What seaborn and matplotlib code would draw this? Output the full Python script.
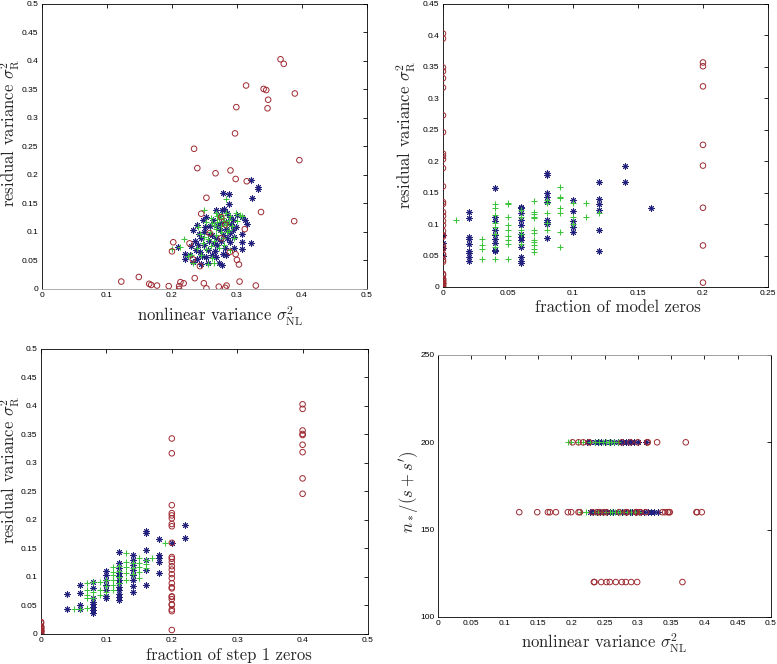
import pandas as pd
import matplotlib
matplotlib.use("Agg")
import matplotlib.pyplot as plt
from matplotlib.ticker import FuncFormatter, MultipleLocator
import seaborn as sns

RED = "#9e2a32"
BLUE = "#22227e"
GREEN = "#3cc43c"

# red circles: one row per run (nonlinear var, residual var, frac model zeros, frac step1 zeros, n*/(s+s'))
red_nl = [0.367, 0.372, 0.314, 0.341, 0.348, 0.347, 0.299, 0.389, 0.297, 0.234,
          0.239, 0.267, 0.290, 0.298, 0.315, 0.396, 0.253, 0.337, 0.388, 0.245,
          0.276, 0.312, 0.202, 0.200, 0.227, 0.298, 0.300, 0.303, 0.243, 0.232,
          0.289, 0.122, 0.149, 0.168, 0.177, 0.195, 0.211, 0.213, 0.218, 0.235,
          0.249, 0.253, 0.272, 0.282, 0.284, 0.304, 0.329, 0.211, 0.345, 0.165,
          0.282, 0.258, 0.276]
red_r = [0.403, 0.395, 0.357, 0.351, 0.332, 0.317, 0.319, 0.343, 0.273, 0.246,
         0.212, 0.203, 0.208, 0.193, 0.189, 0.226, 0.160, 0.135, 0.119, 0.132,
         0.126, 0.105, 0.082, 0.066, 0.080, 0.061, 0.051, 0.043, 0.040, 0.052,
         0.065, 0.013, 0.021, 0.007, 0.006, 0.005, 0.005, 0.012, 0.010, 0.019,
         0.010, 0.001, 0.004, 0.002, 0.006, 0.013, 0.006, 0.000, 0.349, 0.009,
         0.113, 0.098, 0.089]
red_fmz = [0, 0, 0.2, 0.2, 0, 0, 0.2, 0, 0, 0,
           0, 0, 0, 0.2, 0, 0.2, 0, 0, 0, 0,
           0.2, 0, 0, 0.2, 0, 0, 0, 0, 0, 0,
           0, 0, 0, 0.2, 0, 0, 0, 0, 0, 0,
           0, 0, 0, 0, 0, 0, 0, 0, 0, 0,
           0, 0, 0]
red_fs1 = [0.4, 0.4, 0.4, 0.4, 0.4, 0.2, 0.4, 0.2, 0.4, 0.4,
           0.2, 0.2, 0.2, 0.2, 0.2, 0.2, 0.2, 0.2, 0.2, 0.2,
           0.2, 0.2, 0.2, 0.2, 0.2, 0.2, 0.2, 0.2, 0.2, 0.2,
           0.2, 0, 0, 0.2, 0, 0, 0, 0, 0, 0,
           0, 0, 0, 0, 0, 0, 0, 0, 0.4, 0,
           0.2, 0.2, 0.2]
red_n = [120, 200, 200, 160, 160, 160, 120, 160, 160, 120,
         160, 120, 120, 160, 200, 160, 160, 160, 160, 120,
         120, 160, 200, 160, 200, 160, 200, 160, 160, 160,
         200, 160, 160, 160, 160, 160, 200, 160, 200, 120,
         160, 120, 160, 120, 160, 160, 200, 160, 160, 160,
         160, 120, 200]

# blue stars / green plus in the nonlinear vs residual panel
blue_nl = [0.321, 0.332, 0.333, 0.323, 0.278, 0.287, 0.288, 0.280, 0.277, 0.285,
           0.289, 0.294, 0.291, 0.294, 0.296, 0.307, 0.312, 0.315, 0.308, 0.308,
           0.321, 0.308, 0.267, 0.263, 0.269, 0.274, 0.279, 0.276, 0.269, 0.253,
           0.248, 0.251, 0.258, 0.257, 0.249, 0.256, 0.262, 0.268, 0.278, 0.283,
           0.272, 0.277, 0.238, 0.233, 0.241, 0.236, 0.230, 0.237, 0.243, 0.238,
           0.233, 0.220, 0.220, 0.210, 0.245, 0.262, 0.272, 0.283, 0.298, 0.290,
           0.285, 0.264, 0.246, 0.255, 0.244, 0.300, 0.290, 0.266, 0.250, 0.282,
           0.228, 0.240, 0.275, 0.259, 0.296, 0.283, 0.268, 0.252]
blue_r = [0.192, 0.179, 0.176, 0.159, 0.169, 0.167, 0.149, 0.141, 0.138, 0.133,
          0.126, 0.121, 0.114, 0.103, 0.091, 0.126, 0.121, 0.114, 0.097, 0.082,
          0.081, 0.071, 0.138, 0.121, 0.112, 0.103, 0.094, 0.085, 0.077, 0.126,
          0.121, 0.108, 0.097, 0.085, 0.077, 0.068, 0.059, 0.056, 0.062, 0.059,
          0.045, 0.042, 0.112, 0.103, 0.097, 0.085, 0.076, 0.068, 0.065, 0.053,
          0.047, 0.062, 0.053, 0.074, 0.090, 0.095, 0.128, 0.117, 0.108, 0.083,
          0.090, 0.080, 0.057, 0.046, 0.043, 0.130, 0.098, 0.066, 0.100, 0.072,
          0.060, 0.078, 0.115, 0.110, 0.072, 0.105, 0.090, 0.056]
green_nl = [0.200, 0.218, 0.213, 0.225, 0.232, 0.240, 0.250, 0.243, 0.247, 0.252,
            0.255, 0.262, 0.265, 0.268, 0.283, 0.276, 0.280, 0.270, 0.265, 0.260,
            0.275, 0.285, 0.290, 0.298, 0.305, 0.308, 0.296, 0.288, 0.278, 0.268,
            0.258, 0.250, 0.245, 0.260, 0.272, 0.280, 0.290, 0.285, 0.272, 0.262,
            0.278, 0.283, 0.238, 0.230, 0.255, 0.265, 0.300, 0.292, 0.268, 0.253,
            0.276, 0.287, 0.270, 0.283]
green_r = [0.071, 0.088, 0.073, 0.058, 0.046, 0.108, 0.138, 0.097, 0.080, 0.070,
           0.043, 0.055, 0.045, 0.134, 0.158, 0.130, 0.120, 0.118, 0.112, 0.124,
           0.110, 0.115, 0.128, 0.134, 0.130, 0.128, 0.090, 0.104, 0.090, 0.095,
           0.100, 0.092, 0.060, 0.075, 0.072, 0.078, 0.068, 0.100, 0.122, 0.115,
           0.125, 0.112, 0.072, 0.060, 0.087, 0.085, 0.120, 0.110, 0.105, 0.118,
           0.100, 0.121, 0.128, 0.133]

# fraction of model zeros -> residual variances
blue_fmz = {
    0.00: [0.082, 0.070, 0.062, 0.050],
    0.02: [0.120, 0.110, 0.080, 0.077, 0.069, 0.058, 0.054, 0.048, 0.041],
    0.04: [0.158, 0.111, 0.105, 0.090, 0.082, 0.077, 0.070, 0.059, 0.057],
    0.06: [0.127, 0.125, 0.117, 0.106, 0.098, 0.085, 0.080, 0.074, 0.064, 0.048, 0.042, 0.038],
    0.08: [0.181, 0.178, 0.149, 0.143, 0.135, 0.106, 0.103, 0.100, 0.078],
    0.10: [0.139, 0.121, 0.105, 0.096, 0.088],
    0.12: [0.167, 0.140, 0.132, 0.122, 0.091, 0.057],
    0.14: [0.192, 0.167],
    0.16: [0.125],
}
green_fmz = {
    0.01: [0.106],
    0.03: [0.077, 0.067, 0.061, 0.045],
    0.04: [0.132, 0.125, 0.114, 0.101, 0.096, 0.085, 0.064, 0.045],
    0.05: [0.134, 0.132, 0.112, 0.098, 0.090, 0.081, 0.074, 0.069, 0.045],
    0.06: [0.122, 0.111, 0.091, 0.085, 0.069],
    0.07: [0.136, 0.120, 0.116, 0.111, 0.109, 0.091, 0.086, 0.075, 0.072, 0.067, 0.061, 0.056],
    0.08: [0.138, 0.133, 0.117, 0.101, 0.090],
    0.09: [0.159, 0.143, 0.142, 0.125, 0.117, 0.088, 0.064],
    0.10: [0.133, 0.112, 0.100],
    0.11: [0.133, 0.111],
    0.12: [0.117],
}

# fraction of step 1 zeros -> residual variances
blue_fs1 = {
    0.04: [0.071, 0.043],
    0.06: [0.086, 0.072, 0.051, 0.043],
    0.08: [0.091, 0.080, 0.064, 0.056, 0.053, 0.047, 0.042, 0.037],
    0.10: [0.110, 0.104, 0.095, 0.086, 0.077, 0.067, 0.063],
    0.12: [0.143, 0.125, 0.115, 0.107, 0.101, 0.095, 0.089, 0.083, 0.077, 0.071, 0.065, 0.060],
    0.14: [0.139, 0.130, 0.121, 0.112, 0.104, 0.095, 0.084, 0.074],
    0.16: [0.180, 0.177, 0.147, 0.130, 0.112, 0.086],
    0.18: [0.166, 0.139, 0.133, 0.127, 0.107],
    0.20: [0.159],
    0.22: [0.191, 0.168],
}
green_fs1 = {
    0.05: [0.043],
    0.06: [0.044],
    0.07: [0.089, 0.077, 0.068, 0.063, 0.045],
    0.08: [0.092, 0.074, 0.064],
    0.09: [0.092, 0.077, 0.068],
    0.10: [0.095, 0.084, 0.074],
    0.11: [0.117, 0.109, 0.104, 0.095, 0.086, 0.077],
    0.12: [0.120, 0.110, 0.100, 0.090],
    0.13: [0.142, 0.127, 0.118, 0.107, 0.095],
    0.14: [0.125, 0.115, 0.105],
    0.15: [0.133, 0.125, 0.118, 0.108, 0.098],
    0.16: [0.130, 0.122, 0.116],
    0.17: [0.133],
    0.19: [0.160],
}

# n*/(s+s') rows -> nonlinear variances
blue_n = {
    200: [0.223, 0.228, 0.235, 0.240, 0.245, 0.250, 0.258, 0.265, 0.270, 0.275,
          0.278, 0.282, 0.285, 0.290, 0.295, 0.300, 0.313],
    160: [0.228, 0.233, 0.238, 0.243, 0.248, 0.253, 0.258, 0.263, 0.270, 0.276,
          0.282, 0.288, 0.292, 0.298, 0.305, 0.310, 0.315, 0.320, 0.325, 0.330],
}
green_n = {
    200: [0.195, 0.200, 0.210, 0.218, 0.228, 0.235, 0.242, 0.248, 0.252, 0.256,
          0.260, 0.265, 0.270],
    160: [0.215, 0.222, 0.235, 0.240, 0.246, 0.252, 0.258, 0.262, 0.266, 0.270,
          0.274, 0.278, 0.284, 0.290, 0.296, 0.302],
}


def flatten(d):
    rows = [(k, v) for k, vals in d.items() for v in vals]
    return pd.DataFrame(rows, columns=["x", "y"])


red = pd.DataFrame({"nl": red_nl, "r": red_r, "fmz": red_fmz, "fs1": red_fs1, "n": red_n})

sns.set_style("white")
plt.rcParams["mathtext.fontset"] = "cm"
plt.rcParams["font.family"] = ["Liberation Sans", "DejaVu Sans"]

LABEL = dict(fontfamily="cmr10", fontsize=12)

fig = plt.figure(figsize=(7.77, 6.64), dpi=100)
ax1 = fig.add_axes([0.054, 0.5648, 0.4183, 0.4292])
ax2 = fig.add_axes([0.5701, 0.5678, 0.4183, 0.4262])
ax3 = fig.add_axes([0.0528, 0.0452, 0.4208, 0.4292])
ax4 = fig.add_axes([0.5637, 0.0708, 0.4286, 0.3946])


def red_pts(ax, x, y):
    sns.scatterplot(x=x, y=y, marker="o", s=16, facecolor="none", edgecolor=RED,
                    linewidth=0.7, ax=ax, zorder=3)


def star_pts(ax, x, y):
    sns.scatterplot(x=x, y=y, marker=(8, 2, 0), s=15, color=BLUE, linewidth=0.7,
                    ax=ax, zorder=2)


def plus_pts(ax, x, y):
    sns.scatterplot(x=x, y=y, marker="+", s=24, color=GREEN, linewidth=0.75,
                    ax=ax, zorder=2)


# panel 1
red_pts(ax1, red["nl"], red["r"])
star_pts(ax1, blue_nl, blue_r)
plus_pts(ax1, green_nl, green_r)

# panel 2
b2, g2 = flatten(blue_fmz), flatten(green_fmz)
red_pts(ax2, red["fmz"], red["r"])
star_pts(ax2, b2["x"], b2["y"])
plus_pts(ax2, g2["x"], g2["y"])

# panel 3
b3, g3 = flatten(blue_fs1), flatten(green_fs1)
red_pts(ax3, red["fs1"], red["r"])
star_pts(ax3, b3["x"], b3["y"])
plus_pts(ax3, g3["x"], g3["y"])

# panel 4
b4, g4 = flatten(blue_n), flatten(green_n)
red_pts(ax4, red["nl"], red["n"])
star_pts(ax4, b4["y"], b4["x"])
plus_pts(ax4, g4["y"], g4["x"])

fmt = FuncFormatter(lambda v, p: "%g" % round(v, 4))

setup = [
    (ax1, (0, 0.5), 0.1, (0, 0.5), 0.05,
     r"nonlinear variance $\sigma^2_{\rm NL}$", r"residual variance $\sigma^2_{\rm R}$",
     (-0.055, 0.547), (-0.097, 0.547)),
    (ax2, (0, 0.25), 0.05, (0, 0.45), 0.05,
     "fraction of model zeros", r"residual variance $\sigma^2_{\rm R}$",
     (-0.046, 0.537), (-0.112, 0.537)),
    (ax3, (0, 0.5), 0.1, (0, 0.5), 0.05,
     "fraction of step 1 zeros", r"residual variance $\sigma^2_{\rm R}$",
     (-0.049, 0.575), (-0.094, 0.575)),
    (ax4, (0, 0.5), 0.05, (100, 250), 50,
     r"nonlinear variance $\sigma^2_{\rm NL}$", r"$n_*/(s+s')$",
     (-0.058, 0.5), (-0.089, 0.477)),
]
for ax, xl, xs, yl, ys, xlab, ylab, xpos, ypos in setup:
    ax.set_xlim(*xl)
    ax.set_ylim(*yl)
    ax.xaxis.set_major_locator(MultipleLocator(xs))
    ax.yaxis.set_major_locator(MultipleLocator(ys))
    ax.xaxis.set_major_formatter(fmt)
    ax.yaxis.set_major_formatter(fmt)
    ax.tick_params(direction="in", length=3, width=0.6, top=True, right=True,
                   labelsize=6, pad=2.5, colors="black")
    for sp in ax.spines.values():
        sp.set_visible(True)
        sp.set_color("black")
        sp.set_linewidth(0.6)
    ax.set_xlabel(xlab, **LABEL)
    ax.set_ylabel(ylab, **LABEL)
    ax.xaxis.set_label_coords(xpos[1], xpos[0])
    ax.yaxis.set_label_coords(ypos[0], ypos[1])
    ax.xaxis.label.set_va("top")
    ax.yaxis.label.set_va("center")

ax1.spines["bottom"].set_color("#a0a0a0")
ax4.spines["top"].set_color("#909090")

fig.savefig("out.png", dpi=100)
